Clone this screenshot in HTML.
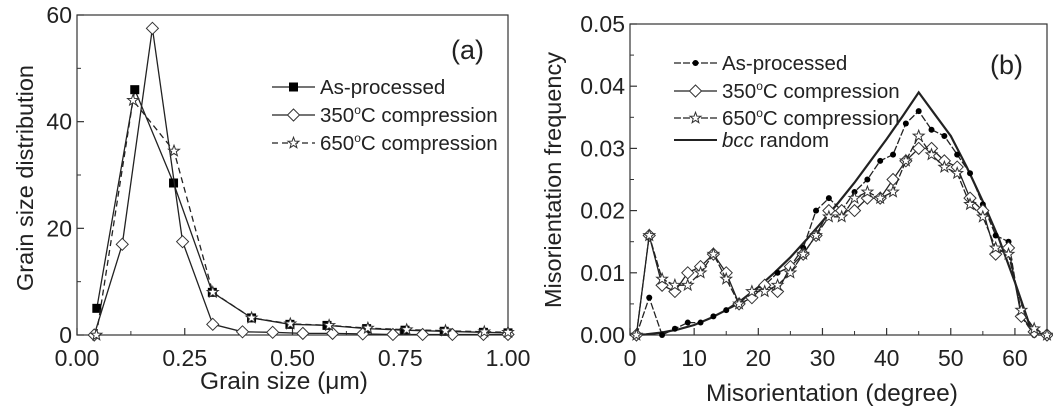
<!DOCTYPE html>
<html><head><meta charset="utf-8"><style>
html,body{margin:0;padding:0;background:#fff;}
svg{display:block;font-family:"Liberation Sans",sans-serif;}
</style></head><body>
<svg id="chart" width="1053" height="414" viewBox="0 0 1053 414"></svg>
<script>
// ---------- Panel (a) data ----------
const aTicksX = [0, 0.25, 0.5, 0.75, 1.0];
const aTickLabelsX = ["0.00", "0.25", "0.50", "0.75", "1.00"];
const aTicksY = [0, 20, 40, 60];
const aAsX = [0.046, 0.134, 0.224, 0.314, 0.405, 0.494, 0.58, 0.672, 0.761, 0.852, 0.943, 1.0];
const aAsY = [5, 46, 28.5, 8, 3.2, 2, 1.8, 1.2, 0.9, 0.7, 0.5, 0.4];
const a350X = [0.04, 0.105, 0.175, 0.245, 0.315, 0.384, 0.454, 0.524, 0.593, 0.663, 0.733, 0.802, 0.871, 0.943, 1.0];
const a350Y = [0, 17, 57.5, 17.5, 2, 0.6, 0.5, 0.3, 0.3, 0.2, 0.1, 0.1, 0.1, 0.1, 0.1];
const a650X = [0.045, 0.13, 0.225, 0.315, 0.405, 0.495, 0.585, 0.675, 0.765, 0.855, 0.945, 1.0];
const a650Y = [0, 44, 34.5, 8, 3.2, 2.1, 1.8, 1.3, 1.0, 0.8, 0.6, 0.5];
// ---------- Panel (b) data ----------
const bTicksX = [0, 10, 20, 30, 40, 50, 60];
const bTicksY = [0, 0.01, 0.02, 0.03, 0.04, 0.05];
const bTickLabelsY = ["0.00", "0.01", "0.02", "0.03", "0.04", "0.05"];
const bDeg = [1,3,5,7,9,11,13,15,17,19,21,23,25,27,29,31,33,35,37,39,41,43,45,47,49,51,53,55,57,59,61,63,65];
const bAs = [0,0.006,0,0.001,0.002,0.002,0.003,0.004,0.005,0.007,0.008,0.010,0.011,0.014,0.020,0.022,0.020,0.023,0.025,0.028,0.029,0.034,0.036,0.033,0.032,0.029,0.026,0.021,0.016,0.015,0.003,0,0];
const b350 = [0,0.016,0.008,0.007,0.010,0.011,0.013,0.010,0.005,0.006,0.008,0.007,0.011,0.013,0.016,0.020,0.020,0.020,0.022,0.022,0.025,0.028,0.030,0.030,0.028,0.027,0.022,0.020,0.013,0.014,0.003,0.0005,0];
const b650 = [0,0.016,0.009,0.008,0.008,0.010,0.013,0.009,0.005,0.007,0.007,0.008,0.010,0.013,0.016,0.019,0.019,0.022,0.023,0.022,0.023,0.028,0.032,0.029,0.027,0.026,0.021,0.019,0.014,0.013,0.004,0.001,0];
const bccX = [0,2.5,5,7.5,10,12.5,15,17.5,20,22.5,25,27.5,30,32.5,35,37.5,40,42.5,45,47.5,50,52.5,55,57.5,60,61.5,62.8];
const bccY = [0,0.0001,0.0004,0.0009,0.0016,0.0027,0.0040,0.0057,0.0077,0.0100,0.0125,0.0153,0.0183,0.0213,0.0245,0.0280,0.0315,0.0352,0.039,0.0355,0.032,0.027,0.0215,0.0155,0.0085,0.004,0];

const NS = "http://www.w3.org/2000/svg";
const svg = document.getElementById('chart');
function mk(tag, attrs, parent, text) {
  const e = document.createElementNS(NS, tag);
  for (const k in attrs) e.setAttribute(k, attrs[k]);
  if (text !== undefined) e.textContent = text;
  (parent || svg).appendChild(e);
  return e;
}
function lin(d0, d1, r0, r1) { return v => r0 + (v - d0) / (d1 - d0) * (r1 - r0); }

function marker(g, type, x, y) {
  let m;
  if (type === 'square') m = mk('rect', {x:x-4.5, y:y-4.5, width:9, height:9, fill:'#000'}, g);
  else if (type === 'dot') m = mk('circle', {cx:x, cy:y, r:3, fill:'#000'}, g);
  else if (type === 'diamond') m = mk('polygon', {points:`${x},${y-6} ${x+6},${y} ${x},${y+6} ${x-6},${y}`, fill:'#fff', stroke:'#333', 'stroke-width':1}, g);
  else if (type === 'star') {
    let p = [];
    for (let i = 0; i < 10; i++) { const r = i % 2 ? 2.4 : 5.8; const a = -Math.PI/2 + i*Math.PI/5; p.push((x + r*Math.cos(a)).toFixed(1) + ',' + (y + r*Math.sin(a)).toFixed(1)); }
    m = mk('polygon', {points:p.join(' '), fill:'#fff', stroke:'#333', 'stroke-width':1}, g);
  }
  
  
}
function series(name, xs, ys, sx, sy, type, dash) {
  const g = mk('g', {});
  
  
  const pts = xs.map((v, i) => sx(v).toFixed(1) + ',' + sy(ys[i]).toFixed(1)).join(' ');
  mk('polyline', {points:pts, fill:'none', stroke:'#222', 'stroke-width':1.3, 'stroke-dasharray':dash || 'none'}, g);
  if (type) xs.forEach((v, i) => { if (sx(v) <= sx.max + 0.5) marker(g, type, sx(v), sy(ys[i])); });
  return g;
}
function axes(name, L, R, T, B, sx, sy, xt, xl, yt, yl, xminor, yminor) {
  const g = mk('g', {});
  
  
  mk('rect', {x:L, y:T, width:R-L, height:B-T, fill:'none', stroke:'#333', 'stroke-width':1.2}, g);
  xt.forEach((v, i) => {
    const x = sx(v);
    mk('line', {x1:x, x2:x, y1:B, y2:B-7, stroke:'#333', 'stroke-width':1.2}, g);
    const t = mk('text', {x:x, y:B+31, 'font-size':23, 'text-anchor':'middle', fill:'#222'}, g, xl[i]);
    
    
  });
  xminor.forEach(v => { const x = sx(v); mk('line', {x1:x, x2:x, y1:B, y2:B-4, stroke:'#333'}, g); });
  yt.forEach((v, i) => {
    const y = sy(v);
    mk('line', {x1:L, x2:L+7, y1:y, y2:y, stroke:'#333', 'stroke-width':1.2}, g);
    const t = mk('text', {x:L-5, y:y+8, 'font-size':23, 'text-anchor':'end', fill:'#222'}, g, yl[i]);
    
    
  });
  yminor.forEach(v => { const y = sy(v); mk('line', {x1:L, x2:L+4, y1:y, y2:y, stroke:'#333'}, g); });
}
function legendEntry(x0, x1, y, label, type, dash, italicPart) {
  const g = mk('g', {});
  
  
  mk('line', {x1:x0, x2:x1, y1:y, y2:y, stroke:'#222', 'stroke-width':type ? 1.3 : 2, 'stroke-dasharray':dash || 'none'}, g);
  if (type) marker(g, type, (x0+x1)/2, y);
  const t = mk('text', {x:x1+5, y:y+7, 'font-size':20.5, fill:'#222'}, g);
  if (italicPart) { mk('tspan', {'font-style':'italic'}, t, italicPart); mk('tspan', {}, t, label); }
  else {
    const m = label.match(/^(\d+)o(.*)$/);
    if (m) { mk('tspan', {}, t, m[1]); mk('tspan', {dy:-8, 'font-size':12}, t, 'o'); mk('tspan', {dy:8}, t, m[2]); }
    else t.textContent = label;
  }
}

// ---------- Panel (a) ----------
const aL = 77, aR = 508, aT = 15, aB = 335;
const ax = lin(0, 1, aL, aR); ax.max = aR;
const ay = lin(0, 60, aB, aT);
axes('axes-a', aL, aR, aT, aB, ax, ay, aTicksX, aTickLabelsX, aTicksY, aTicksY.map(String), [0.125,0.375,0.625,0.875], [10,30,50]);
series('series-a-as-processed', aAsX, aAsY, ax, ay, 'square');
series('series-a-350c', a350X, a350Y, ax, ay, 'diamond');
series('series-a-650c', a650X, a650Y, ax, ay, 'star', '6,4');
let t = mk('text', {x:484, y:59, 'font-size':27, 'text-anchor':'end', fill:'#222'}, svg, '(a)');
 
legendEntry(272, 315, 87, 'As-processed', 'square');
legendEntry(272, 315, 115, '350oC compression', 'diamond');
legendEntry(272, 315, 143, '650oC compression', 'star', '6,4');
t = mk('text', {x:0, y:0, 'font-size':23.5, 'text-anchor':'middle', fill:'#222', transform:'translate(33,178) rotate(-90)'}, svg, 'Grain size distribution');
 
t = mk('text', {x:284, y:389, 'font-size':24.5, 'text-anchor':'middle', fill:'#222'}, svg, 'Grain size (μm)');
 

// ---------- Panel (b) ----------
const bL = 630, bR = 1047, bT = 24, bB = 335;
const bx = lin(0, 65, bL, bR); bx.max = bR;
const by = lin(0, 0.05, bB, bT);
axes('axes-b', bL, bR, bT, bB, bx, by, bTicksX, bTicksX.map(String), bTicksY, bTickLabelsY, [5,15,25,35,45,55,65], [0.005,0.015,0.025,0.035,0.045]);
const bccG = series('series-b-bcc-random', bccX, bccY, bx, by, null);
bccG.firstChild.setAttribute('stroke-width', 2.2);
series('series-b-as-processed', bDeg, bAs, bx, by, 'dot', '7,2');
series('series-b-350c', bDeg, b350, bx, by, 'diamond');
series('series-b-650c', bDeg, b650, bx, by, 'star', '7,2');
t = mk('text', {x:1023, y:74, 'font-size':27, 'text-anchor':'end', fill:'#222'}, svg, '(b)');
 
legendEntry(674, 717, 63, 'As-processed', 'dot', '7,2');
legendEntry(674, 717, 91, '350oC compression', 'diamond');
legendEntry(674, 717, 118, '650oC compression', 'star', '7,2');
legendEntry(674, 717, 140, ' random', null, null, 'bcc');
t = mk('text', {x:0, y:0, 'font-size':23.5, 'text-anchor':'middle', fill:'#222', transform:'translate(561,180) rotate(-90)'}, svg, 'Misorientation frequency');
 
t = mk('text', {x:832, y:401, 'font-size':24.5, 'text-anchor':'middle', fill:'#222'}, svg, 'Misorientation (degree)');
 
</script>
</body></html>
